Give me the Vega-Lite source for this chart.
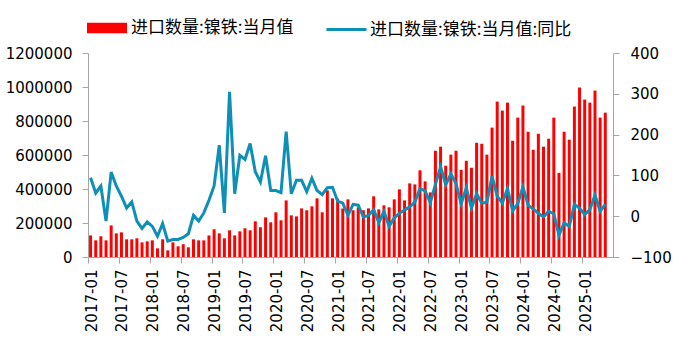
{
  "$schema": "https://vega.github.io/schema/vega-lite/v6.json",
  "width": 525,
  "height": 204,
  "autosize": {"type": "none"},
  "padding": {"left": 88, "top": 53, "right": 62, "bottom": 101},
  "background": "white",
  "data": {
    "values": [
      {"m": "2017-01", "v": 127000, "y": 94},
      {"m": "2017-02", "v": 98000, "y": 57},
      {"m": "2017-03", "v": 122000, "y": 74},
      {"m": "2017-04", "v": 98000, "y": -12},
      {"m": "2017-05", "v": 186000, "y": 108},
      {"m": "2017-06", "v": 139000, "y": 74},
      {"m": "2017-07", "v": 145000, "y": 49},
      {"m": "2017-08", "v": 104000, "y": 20},
      {"m": "2017-09", "v": 104000, "y": 35},
      {"m": "2017-10", "v": 110000, "y": -12},
      {"m": "2017-11", "v": 86000, "y": -30},
      {"m": "2017-12", "v": 92000, "y": -14},
      {"m": "2018-01", "v": 98000, "y": -25},
      {"m": "2018-02", "v": 51000, "y": -49},
      {"m": "2018-03", "v": 104000, "y": -18},
      {"m": "2018-04", "v": 39000, "y": -61},
      {"m": "2018-05", "v": 86000, "y": -57},
      {"m": "2018-06", "v": 63000, "y": -57},
      {"m": "2018-07", "v": 75000, "y": -52},
      {"m": "2018-08", "v": 57000, "y": -43},
      {"m": "2018-09", "v": 104000, "y": 2},
      {"m": "2018-10", "v": 98000, "y": -12},
      {"m": "2018-11", "v": 98000, "y": 8},
      {"m": "2018-12", "v": 127000, "y": 39},
      {"m": "2019-01", "v": 163000, "y": 74},
      {"m": "2019-02", "v": 139000, "y": 174},
      {"m": "2019-03", "v": 110000, "y": 8},
      {"m": "2019-04", "v": 157000, "y": 305},
      {"m": "2019-05", "v": 127000, "y": 55},
      {"m": "2019-06", "v": 151000, "y": 149},
      {"m": "2019-07", "v": 169000, "y": 139},
      {"m": "2019-08", "v": 157000, "y": 178},
      {"m": "2019-09", "v": 210000, "y": 109},
      {"m": "2019-10", "v": 175000, "y": 84},
      {"m": "2019-11", "v": 233000, "y": 148},
      {"m": "2019-12", "v": 204000, "y": 63},
      {"m": "2020-01", "v": 263000, "y": 63},
      {"m": "2020-02", "v": 216000, "y": 58},
      {"m": "2020-03", "v": 333000, "y": 207},
      {"m": "2020-04", "v": 245000, "y": 55},
      {"m": "2020-05", "v": 239000, "y": 88},
      {"m": "2020-06", "v": 286000, "y": 88},
      {"m": "2020-07", "v": 275000, "y": 60},
      {"m": "2020-08", "v": 298000, "y": 93},
      {"m": "2020-09", "v": 345000, "y": 63},
      {"m": "2020-10", "v": 263000, "y": 53},
      {"m": "2020-11", "v": 392000, "y": 70},
      {"m": "2020-12", "v": 345000, "y": 71},
      {"m": "2021-01", "v": 343000, "y": 37},
      {"m": "2021-02", "v": 286000, "y": 32},
      {"m": "2021-03", "v": 339000, "y": 2},
      {"m": "2021-04", "v": 275000, "y": 29},
      {"m": "2021-05", "v": 292000, "y": 27},
      {"m": "2021-06", "v": 275000, "y": -2},
      {"m": "2021-07", "v": 286000, "y": 2},
      {"m": "2021-08", "v": 357000, "y": 16},
      {"m": "2021-09", "v": 280000, "y": -16},
      {"m": "2021-10", "v": 304000, "y": 12},
      {"m": "2021-11", "v": 292000, "y": -25},
      {"m": "2021-12", "v": 339000, "y": -4},
      {"m": "2022-01", "v": 398000, "y": 7},
      {"m": "2022-02", "v": 333000, "y": 15},
      {"m": "2022-03", "v": 433000, "y": 23},
      {"m": "2022-04", "v": 427000, "y": 34},
      {"m": "2022-05", "v": 510000, "y": 68},
      {"m": "2022-06", "v": 445000, "y": 62},
      {"m": "2022-07", "v": 380000, "y": 33},
      {"m": "2022-08", "v": 625000, "y": 78},
      {"m": "2022-09", "v": 649000, "y": 121},
      {"m": "2022-10", "v": 537000, "y": 77},
      {"m": "2022-11", "v": 602000, "y": 104},
      {"m": "2022-12", "v": 625000, "y": 80},
      {"m": "2023-01", "v": 513000, "y": 30},
      {"m": "2023-02", "v": 566000, "y": 70},
      {"m": "2023-03", "v": 525000, "y": 20},
      {"m": "2023-04", "v": 672000, "y": 55},
      {"m": "2023-05", "v": 666000, "y": 32},
      {"m": "2023-06", "v": 602000, "y": 34},
      {"m": "2023-07", "v": 761000, "y": 98},
      {"m": "2023-08", "v": 914000, "y": 49},
      {"m": "2023-09", "v": 861000, "y": 32},
      {"m": "2023-10", "v": 908000, "y": 68},
      {"m": "2023-11", "v": 684000, "y": 13},
      {"m": "2023-12", "v": 820000, "y": 31},
      {"m": "2024-01", "v": 891000, "y": 72},
      {"m": "2024-02", "v": 737000, "y": 27},
      {"m": "2024-03", "v": 631000, "y": 18},
      {"m": "2024-04", "v": 725000, "y": 7},
      {"m": "2024-05", "v": 649000, "y": -2},
      {"m": "2024-06", "v": 696000, "y": 12},
      {"m": "2024-07", "v": 820000, "y": 6},
      {"m": "2024-08", "v": 495000, "y": -47},
      {"m": "2024-09", "v": 737000, "y": -16},
      {"m": "2024-10", "v": 690000, "y": -25},
      {"m": "2024-11", "v": 885000, "y": 29},
      {"m": "2024-12", "v": 997000, "y": 20},
      {"m": "2025-01", "v": 926000, "y": 4},
      {"m": "2025-02", "v": 908000, "y": 16},
      {"m": "2025-03", "v": 979000, "y": 52},
      {"m": "2025-04", "v": 820000, "y": 12},
      {"m": "2025-05", "v": 849000, "y": 29}
    ]
  },
  "encoding": {
    "x": {
      "field": "m",
      "type": "ordinal",
      "scale": {
        "domain": ["2017-01","2017-02","2017-03","2017-04","2017-05","2017-06","2017-07","2017-08","2017-09","2017-10","2017-11","2017-12",
                   "2018-01","2018-02","2018-03","2018-04","2018-05","2018-06","2018-07","2018-08","2018-09","2018-10","2018-11","2018-12",
                   "2019-01","2019-02","2019-03","2019-04","2019-05","2019-06","2019-07","2019-08","2019-09","2019-10","2019-11","2019-12",
                   "2020-01","2020-02","2020-03","2020-04","2020-05","2020-06","2020-07","2020-08","2020-09","2020-10","2020-11","2020-12",
                   "2021-01","2021-02","2021-03","2021-04","2021-05","2021-06","2021-07","2021-08","2021-09","2021-10","2021-11","2021-12",
                   "2022-01","2022-02","2022-03","2022-04","2022-05","2022-06","2022-07","2022-08","2022-09","2022-10","2022-11","2022-12",
                   "2023-01","2023-02","2023-03","2023-04","2023-05","2023-06","2023-07","2023-08","2023-09","2023-10","2023-11","2023-12",
                   "2024-01","2024-02","2024-03","2024-04","2024-05","2024-06","2024-07","2024-08","2024-09","2024-10","2024-11","2024-12",
                   "2025-01","2025-02","2025-03","2025-04","2025-05","2025-06"],
        "paddingInner": 0.42,
        "paddingOuter": 0.21
      },
      "axis": {
        "values": ["2017-01","2017-07","2018-01","2018-07","2019-01","2019-07","2020-01","2020-07","2021-01","2021-07","2022-01","2022-07","2023-01","2023-07","2024-01","2024-07","2025-01"],
        "labelAngle": -90,
        "labelAlign": "right",
        "labelBaseline": "middle",
        "bandPosition": 0.5,
        "tickOffset": -2.57,
        "labelOffset": 3,
        "labelPadding": 6,
        "tickSize": 6,
        "title": null
      }
    }
  },
  "layer": [
    {
      "mark": {"type": "bar"},
      "encoding": {
        "y": {
          "field": "v",
          "type": "quantitative",
          "scale": {"domain": [0, 1200000], "nice": false, "zero": true},
          "axis": {
            "values": [0, 200000, 400000, 600000, 800000, 1000000, 1200000],
            "format": "d",
            "tickSize": 6,
            "labelPadding": 10,
            "title": null
          }
        },
        "fill": {
          "datum": "进口数量:镍铁:当月值",
          "scale": {"range": ["#FF0000"]},
          "legend": {
            "orient": "none",
            "legendX": -1,
            "legendY": -45,
            "title": null,
            "symbolType": "M-1,-0.26H1V0.26H-1Z",
            "symbolSize": 1600,
            "symbolStrokeWidth": 0,
            "labelOffset": 4
          }
        }
      }
    },
    {
      "mark": {"type": "line", "strokeWidth": 3},
      "encoding": {
        "y": {
          "field": "y",
          "type": "quantitative",
          "scale": {"domain": [-100, 400], "nice": false, "zero": false},
          "axis": {
            "orient": "right",
            "values": [-100, 0, 100, 200, 300, 400],
            "format": "d",
            "tickSize": 6,
            "labelPadding": 11,
            "title": null
          }
        },
        "stroke": {
          "datum": "进口数量:镍铁:当月值:同比",
          "scale": {"range": ["#0E8FB7"]},
          "legend": {
            "orient": "none",
            "legendX": 237,
            "legendY": -45,
            "title": null,
            "symbolType": "stroke",
            "symbolSize": 1600,
            "symbolStrokeWidth": 3,
            "labelOffset": 2
          }
        }
      }
    }
  ],
  "resolve": {"scale": {"y": "independent", "fill": "independent", "stroke": "independent"}},
  "config": {
    "view": {"stroke": null},
    "axis": {
      "grid": false,
      "domainColor": "#A6A6A6",
      "tickColor": "#A6A6A6",
      "labelFont": "DejaVu Sans",
      "labelFontSize": 15,
      "labelColor": "#000000"
    },
    "legend": {
      "labelFont": "Noto Sans CJK SC",
      "labelFontSize": 17,
      "labelColor": "#000000",
      "labelLimit": 400,
      "padding": 0
    }
  }
}
